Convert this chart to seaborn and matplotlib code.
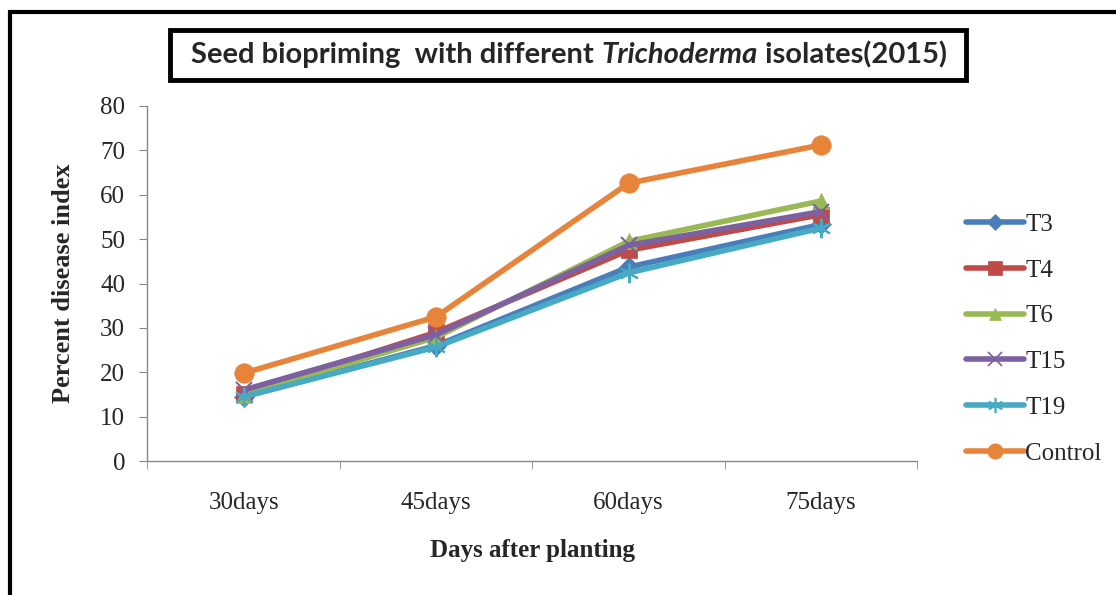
import numpy as np
import pandas as pd
import matplotlib
matplotlib.use("Agg")
import matplotlib.pyplot as plt
import matplotlib.patches as patches
from matplotlib.lines import Line2D
import seaborn as sns

days = ["30days", "45days", "60days", "75days"]
series = ["T3", "T4", "T6", "T15", "T19", "Control"]
t3 = [14.5, 26.0, 43.7, 53.3]
t4 = [15.2, 29.0, 47.5, 55.5]
t6 = [15.0, 27.9, 49.5, 58.6]
t15 = [16.0, 28.5, 48.6, 56.2]
t19 = [14.5, 25.7, 42.4, 52.5]
control = [19.8, 32.5, 62.6, 71.2]

colors = ["#4A7EBB", "#BE4B48", "#98B954", "#7D60A0", "#46AAC5", "#E8833A"]
markers = ["D", "s", "^", "x", (6, 2, 0), "o"]
msizes = [10, 12, 11, 11, 14, 14]

rows = []
for name, vals in zip(series, [t3, t4, t6, t15, t19, control]):
    for i, v in enumerate(vals):
        rows.append({"series": name, "pos": i, "value": v})
df = pd.DataFrame(rows)

sns.set_style("white")
plt.rcParams["font.family"] = ["Liberation Serif", "DejaVu Serif"]

fig = plt.figure(figsize=(11.16, 5.95), dpi=100)
ax = fig.add_axes([0.132, 0.225, 0.69, 0.597])

for name, c, m, ms in zip(series, colors, markers, msizes):
    sub = df[df["series"] == name]
    sns.lineplot(data=sub, x="pos", y="value", color=c, marker=m, markersize=ms,
                 linewidth=4, markeredgecolor=c, markerfacecolor=c,
                 markeredgewidth=1.5 if m in ("x", (6, 2, 0)) else 0.5,
                 ax=ax, legend=False)

ax.set_xlim(-0.5, 3.5)
ax.set_ylim(0, 80)
ax.set_yticks(np.arange(0, 81, 10))
ax.set_xticks(range(4))
ax.set_xticklabels(days)
ax.set_xticks(np.arange(-0.5, 3.6, 1), minor=True)
ax.tick_params(axis="x", which="major", length=0, pad=22, labelsize=18)
ax.tick_params(axis="x", which="minor", length=6, color="#888888", direction="out")
ax.tick_params(axis="y", length=6, color="#888888", direction="out", labelsize=18, pad=10)
ax.xaxis.set_ticks_position("bottom")
ax.yaxis.set_ticks_position("left")
for s in ["top", "right"]:
    ax.spines[s].set_visible(False)
for s in ["left", "bottom"]:
    ax.spines[s].set_color("#888888")
    ax.spines[s].set_linewidth(1)

ax.set_xlabel("Days after planting", fontsize=18, fontweight="bold", labelpad=18)
ax.set_ylabel("Percent disease index", fontsize=19, fontweight="bold", labelpad=18)

leg_sizes = [8, 10, 9, 10, 11, 11]
handles = [Line2D([0], [0], color=c, marker=m, markersize=ms, linewidth=4,
                  markeredgecolor=c, markerfacecolor=c,
                  markeredgewidth=1.2 if m in ("x", (6, 2, 0)) else 0.5)
           for c, m, ms in zip(colors, markers, leg_sizes)]
fig.legend(handles, series, loc="upper left", bbox_to_anchor=(0.857, 0.658),
           frameon=False, fontsize=18, labelspacing=0.93, handlelength=2.3,
           handletextpad=0.05, borderaxespad=0)

# outer frame
fig.patches.append(patches.Rectangle((10 / 1116, -0.1), 1.2, 1 - 12 / 595 + 0.1,
                                     transform=fig.transFigure, fill=False,
                                     edgecolor="black", linewidth=3, clip_on=False))

# title in a box, with italic genus name
fig.patches.append(patches.Rectangle((170 / 1116, 1 - 80 / 595), 796 / 1116, 50 / 595,
                                     transform=fig.transFigure, fill=False,
                                     edgecolor="black", linewidth=3.5))
parts = [("Seed biopriming  with different ", "normal"), ("Trichoderma", "italic"),
         (" isolates(2015)", "normal")]
fig.canvas.draw()
r = fig.canvas.get_renderer()
texts = []
for s, st in parts:
    t = fig.text(0, 1 - 55 / 595, s, fontsize=21, fontstyle=st, fontweight="bold",
                 va="center", ha="left", family=["Lato", "DejaVu Sans"])
    texts.append(t)
widths = [t.get_window_extent(r).width for t in texts]
x0 = 569 - sum(widths) / 2
for t, w in zip(texts, widths):
    t.set_x(x0 / 1116)
    x0 += w

fig.savefig("out.png", dpi=100)
